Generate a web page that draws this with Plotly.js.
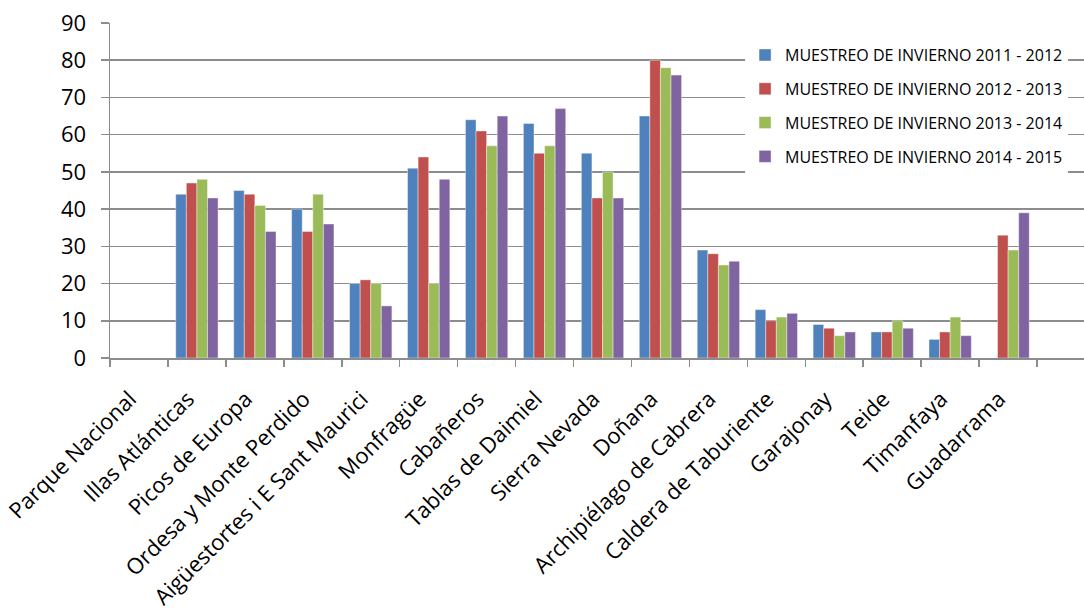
<!DOCTYPE html>
<html>
<head>
<meta charset="utf-8">
<script src="https://cdn.plot.ly/plotly-3.0.1.min.js"></script>
<style>html,body{margin:0;padding:0;background:#fff;}#chart{width:1084px;height:612px;}</style>
</head>
<body>
<div id="chart"></div>
<script>
const categories = ["Parque Nacional","Illas Atlánticas","Picos de Europa","Ordesa y Monte Perdido","Aigüestortes i E Sant Maurici","Monfragüe","Cabañeros","Tablas de Daimiel","Sierra Nevada","Doñana","Archipiélago de Cabrera","Caldera de Taburiente","Garajonay","Teide","Timanfaya","Guadarrama"];
const seriesNames = ["MUESTREO DE INVIERNO 2011 - 2012","MUESTREO DE INVIERNO 2012 - 2013","MUESTREO DE INVIERNO 2013 - 2014","MUESTREO DE INVIERNO 2014 - 2015"];
const invierno2011_2012 = [null,44,45,40,20,51,64,63,55,65,29,13,9,7,5,null];
const invierno2012_2013 = [null,47,44,34,21,54,61,55,43,80,28,10,8,7,7,33];
const invierno2013_2014 = [null,48,41,44,20,20,57,57,50,78,25,11,6,10,11,29];
const invierno2014_2015 = [null,43,34,36,14,48,65,67,43,76,26,12,7,8,6,39];
const yTicks = [0,10,20,30,40,50,60,70,80,90];

const colors = ["#4F81BD","#C0504D","#9BBB59","#8064A2"];
const values = [invierno2011_2012, invierno2012_2013, invierno2013_2014, invierno2014_2015];

const traces = values.map((v,i)=>({
  type:"bar",
  x:categories,
  y:v,
  name:seriesNames[i],
  legendgroup:"g"+i,
  marker:{color:colors[i], line:{color:"rgba(255,255,255,0.5)", width:0.8}},
  hoverinfo:"x+y+name"
}));

const layout = {
  width:1084, height:612,
  margin:{l:110, r:0, t:23, b:254},
  paper_bgcolor:"#fff", plot_bgcolor:"#fff",
  barmode:"group", bargap:0.27, bargroupgap:0,
  font:{family:"Open Sans, Liberation Sans, sans-serif", color:"#000"},
  showlegend:true,
  legend:{
    x:0.652, y:0.955, xanchor:"left", yanchor:"top",
    bgcolor:"#fff", borderwidth:0,
    font:{size:16, color:"#000"},
    tracegroupgap:10,
    traceorder:"grouped"
  },
  xaxis:{
    type:"category",
    range:[-0.5, 16.31],
    tickson:"boundaries",
    ticks:"outside", ticklen:7, tickcolor:"#8c8c8c", tickwidth:1.5,
    showline:true, linecolor:"#8c8c8c", linewidth:1.5,
    showgrid:false,
    tickangle:-45,
    tickfont:{size:22, color:"#000"},
    ticklabelstandoff:18,
    ticklabelshift:-9,
    automargin:false
  },
  yaxis:{
    range:[0,90],
    tickvals:yTicks,
    ticks:"outside", ticklen:8, tickcolor:"#8c8c8c", tickwidth:1.5,
    showline:true, linecolor:"#8c8c8c", linewidth:1.5,
    showgrid:true, gridcolor:"#8c8c8c", gridwidth:1.5,
    zeroline:false,
    tickfont:{size:22, color:"#000"},
    ticklabelstandoff:10,
    automargin:false
  }
};

Plotly.newPlot("chart", traces, layout, {displayModeBar:false, staticPlot:true});
</script>
</body>
</html>
